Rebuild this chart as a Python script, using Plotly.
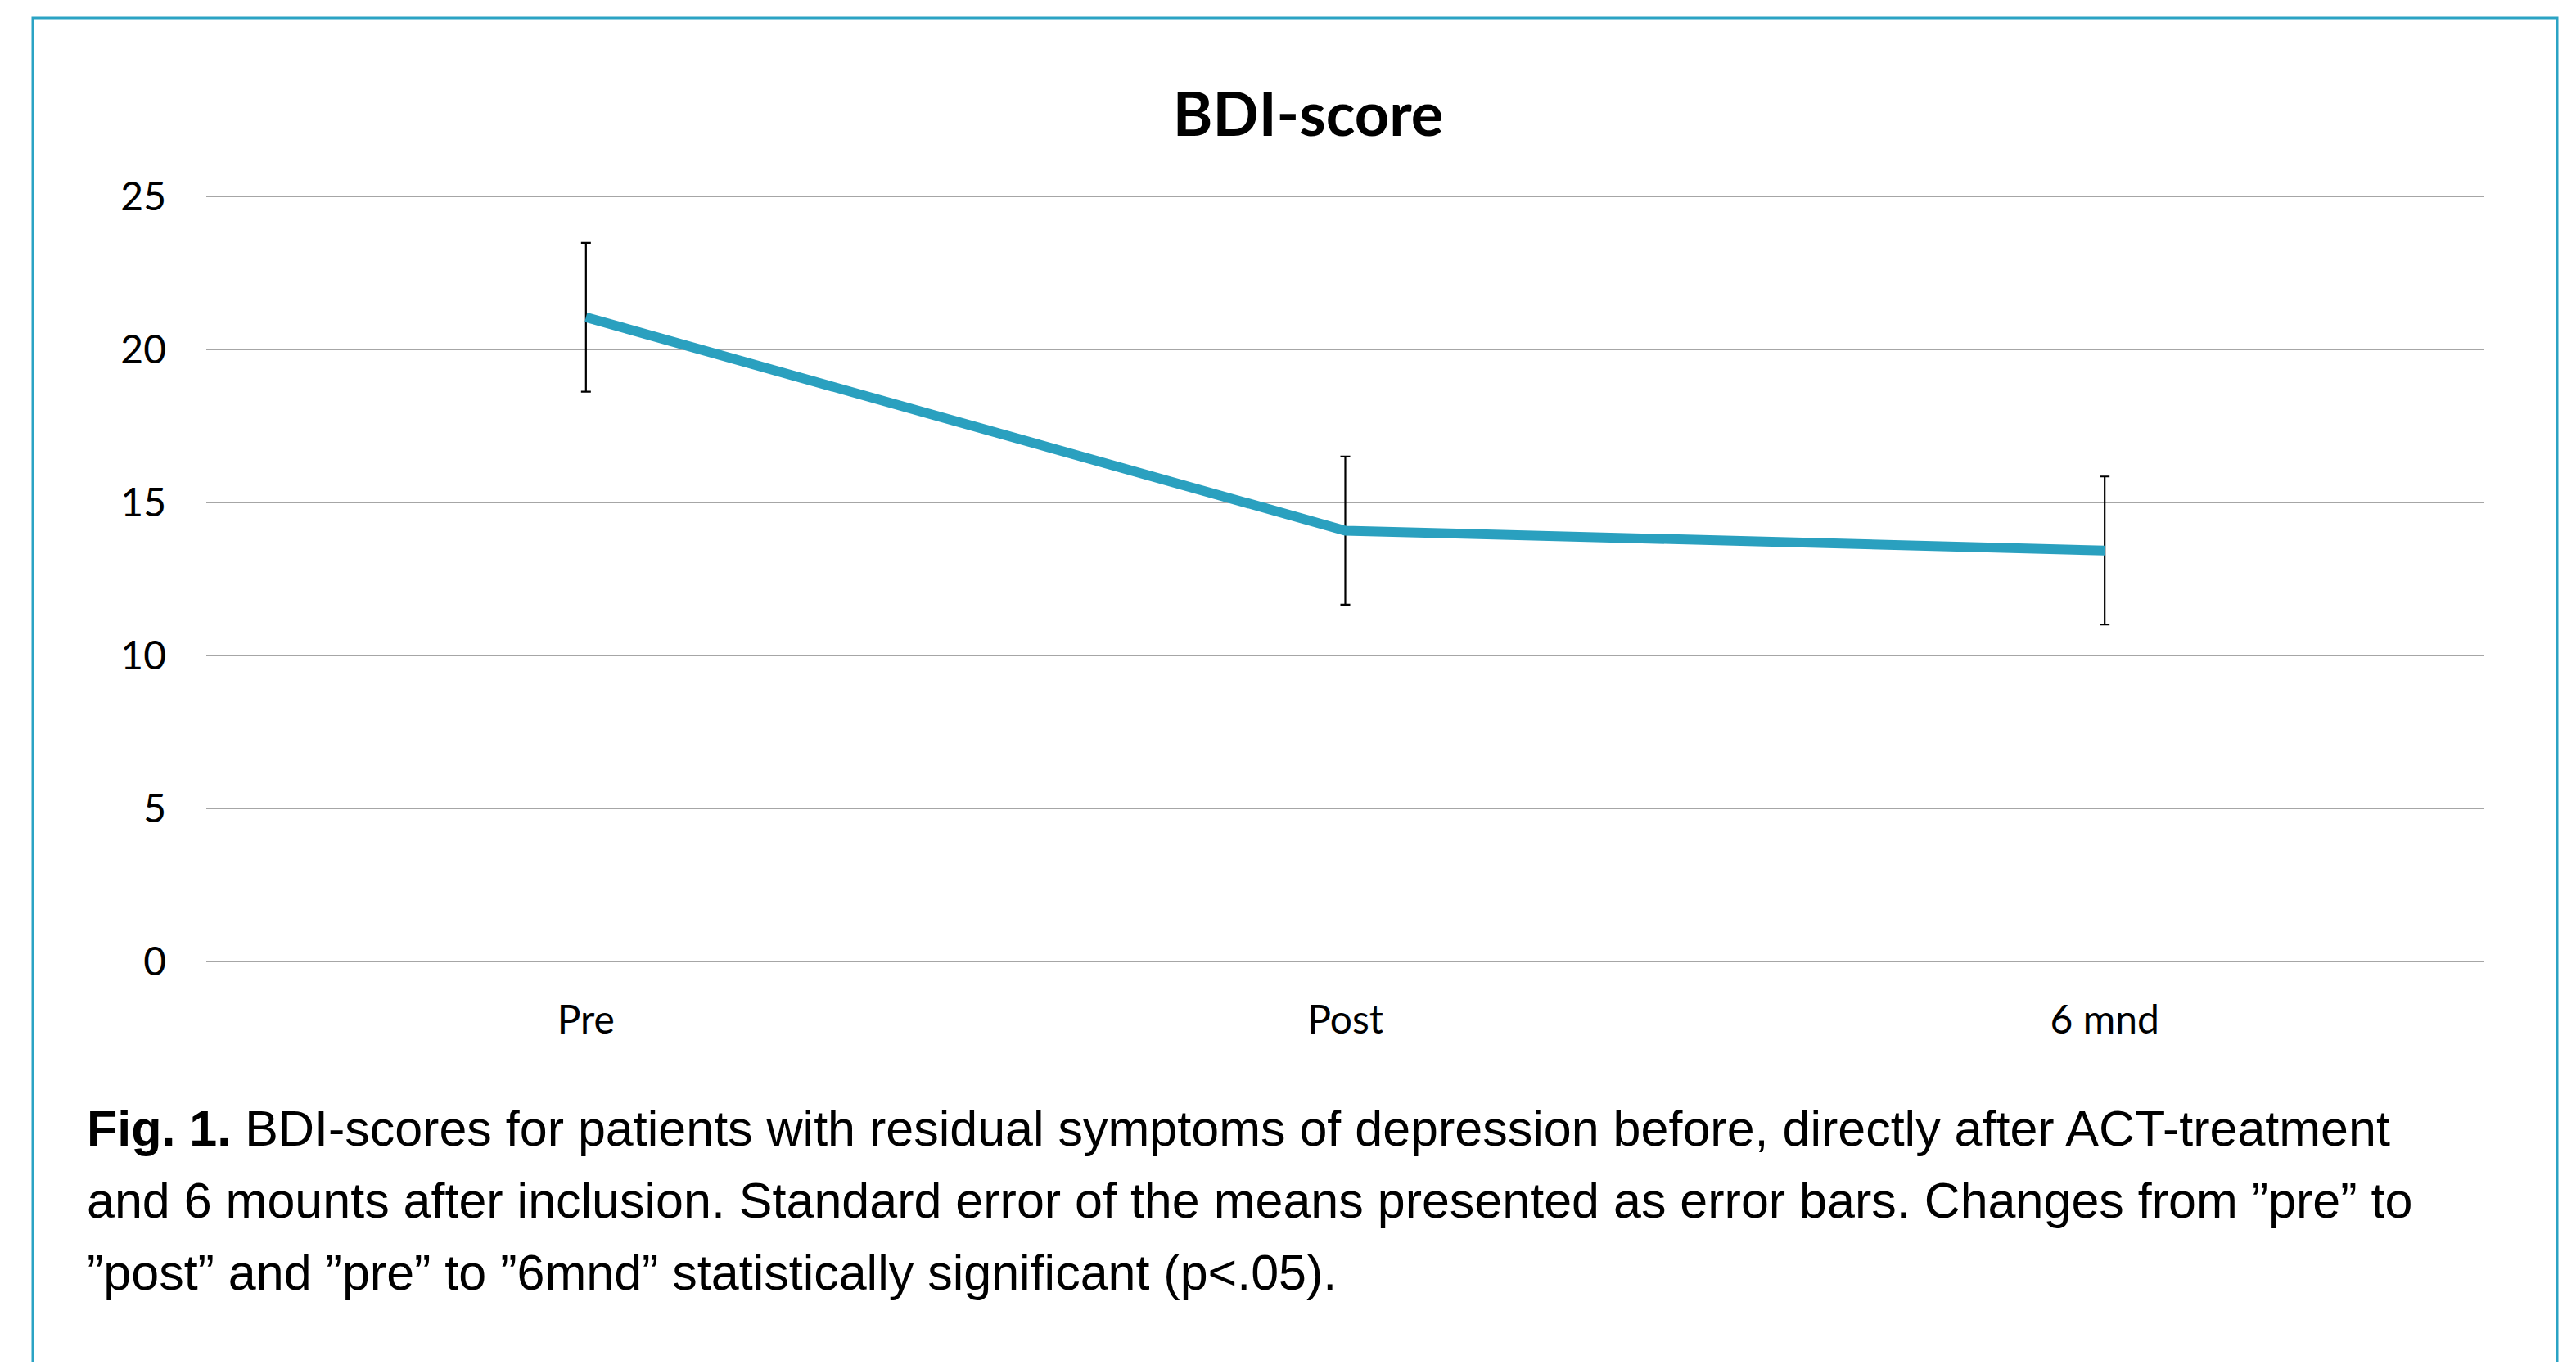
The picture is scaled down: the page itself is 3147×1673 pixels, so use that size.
import plotly.graph_objects as go

categories = ["Pre", "Post", "6 mnd"]
bdi_mean = [21.05, 14.08, 13.43]
bdi_se = [2.43, 2.42, 2.42]
y_ticks = [0, 5, 10, 15, 20, 25]

# page has an 8px body margin; all targets below are in figure pixels
OFF = 8
W, H = 3147 - 2 * OFF, 1673 - 2 * OFF
Y0, Y1 = -0.03, 25.03
L = 252 - OFF
R = W - (3035 - OFF)
T = 240 - OFF - 1
B = H - (1175 - OFF) - 1
pw = W - L - R
ph = H - T - B

def px_x(px):
    return (px - OFF - L) / pw

def px_y(py):
    return (H - B - (py - OFF)) / ph

fig = go.Figure()
fig.add_trace(go.Scatter(
    x=categories, y=bdi_mean, mode="lines",
    line=dict(color="#2AA0BF", width=12, shape="linear"),
    error_y=dict(type="data", array=bdi_se, visible=True, color="black",
                 thickness=2.2, width=6),
    showlegend=False, hoverinfo="skip",
))

caption_lines = [
    "<b>Fig. 1.</b> BDI-scores for patients with residual symptoms of depression before, directly after ACT-treatment",
    "and 6 mounts after inclusion. Standard error of the means presented as error bars. Changes from \u201dpre\u201d to",
    "\u201dpost\u201d and \u201dpre\u201d to \u201d6mnd\u201d statistically significant (p&lt;.05).",
]
caption_y = [1379, 1467, 1555]

for txt, yy in zip(caption_lines, caption_y):
    fig.add_annotation(
        text=txt, xref="paper", yref="paper",
        x=px_x(104), y=px_y(yy), xanchor="left", yanchor="middle",
        align="left", showarrow=False,
        font=dict(family="Liberation Sans, Arial", size=61, color="black"),
    )

fig.add_shape(type="rect", xref="paper", yref="paper",
              x0=px_x(40), x1=px_x(3124), y0=px_y(1700), y1=px_y(22),
              line=dict(color="#2BA3C4", width=3), fillcolor="rgba(0,0,0,0)", layer="below")

fig.update_layout(
    width=W, height=H,
    margin=dict(l=L, r=R, t=T, b=B),
    paper_bgcolor="white", plot_bgcolor="white",
    title=dict(text="<b>BDI-score</b>", x=px_x(1598), xref="paper", xanchor="center",
               y=1 - (140 - OFF) / H, yanchor="middle",
               font=dict(family="Lato, Open Sans, sans-serif", size=74, color="black")),
    font=dict(family="Lato, Open Sans, sans-serif", size=48, color="black"),
    xaxis=dict(range=[-0.5, 2.5], showgrid=False, showline=False, zeroline=False,
               ticks="", tickfont=dict(size=48), ticklabelstandoff=38),
    yaxis=dict(range=[Y0, Y1], tickvals=y_ticks, showgrid=True, gridcolor="#A6A6A6",
               gridwidth=2, zeroline=False, showline=False, ticks="",
               tickfont=dict(size=48), ticklabelstandoff=48),
)

fig.write_html("out.html")
